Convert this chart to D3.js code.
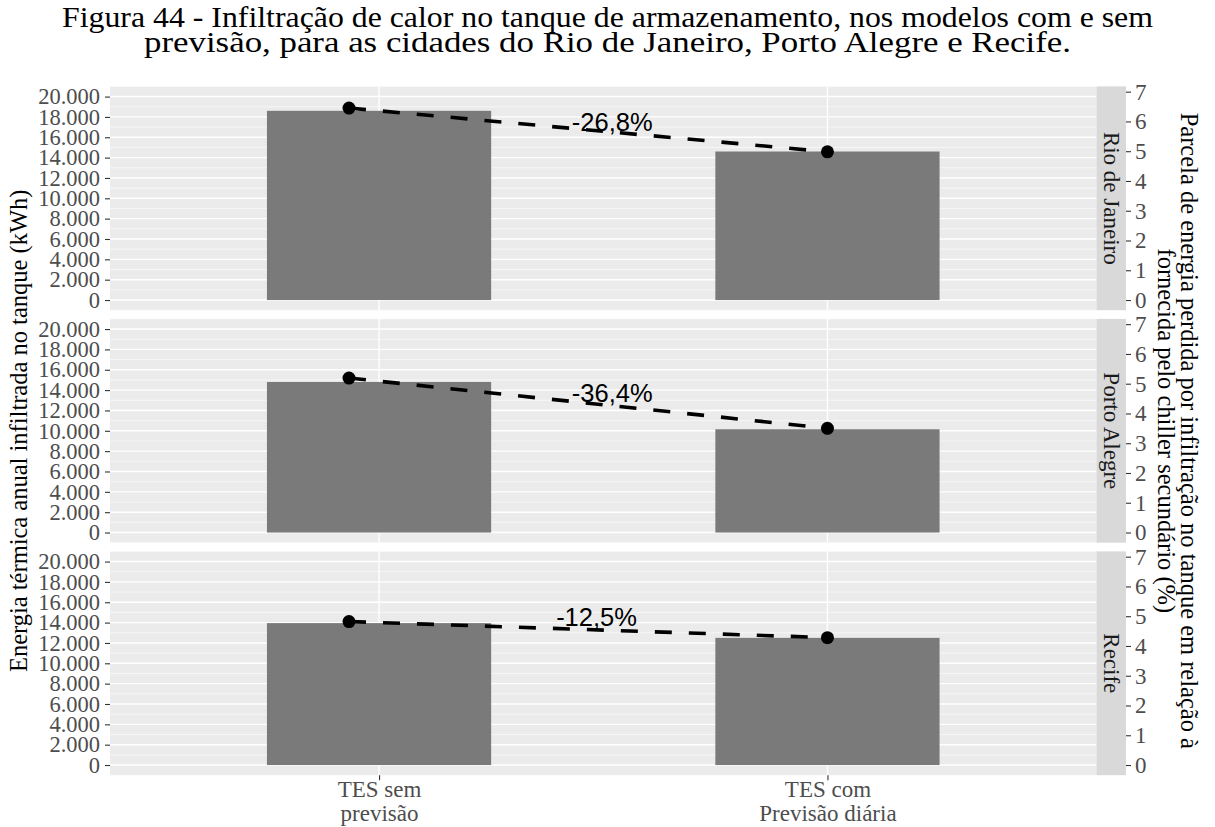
<!DOCTYPE html>
<html><head><meta charset="utf-8">
<script src="https://cdn.jsdelivr.net/npm/d3@7"></script>
<style>body{margin:0;background:#fff}</style>
</head><body><svg id="c" width="1215" height="827"></svg>
<script>
// ---------------- data ----------------
const categories = ["TES sem\nprevisão", "TES com\nPrevisão diária"];
const cities = ["Rio de Janeiro", "Porto Alegre", "Recife"];
const energyNoForecast = [18600, 14800, 13950];      // kWh
const energyDailyForecast = [14600, 10150, 12500];   // kWh
const lossNoForecast = [6.45, 5.19, 4.82];           // %
const lossDailyForecast = [4.98, 3.50, 4.28];        // %
const changeLabels = ["-26,8%", "-36,4%", "-12,5%"];
const changeLabelX = [1.52, 1.52, 1.485];            // category units
const changeLabelY = [5.69, 4.40, 4.67];             // % units
const pointNudge = [-0.067, 0];                      // category units
const yTicks = [0, 2000, 4000, 6000, 8000, 10000, 12000, 14000, 16000, 18000, 20000];
const yMinorTicks = [-1000, 1000, 3000, 5000, 7000, 9000, 11000, 13000, 15000, 17000, 19000, 21000];
const y2Ticks = [0, 1, 2, 3, 4, 5, 6, 7];
const titleLines = ["Figura 44 - Infiltração de calor no tanque de armazenamento, nos modelos com e sem",
                    "previsão, para as cidades do Rio de Janeiro, Porto Alegre e Recife."];
const yTitle = "Energia térmica anual infiltrada no tanque (kWh)";
const y2TitleLines = ["Parcela de energia perdida por infiltração no tanque em relação à",
                      "fornecida pelo chiller secundário (%)"];
const yDomain = [-1000, 21000];
const kWhPerPercent = 2926;

// ---------------- layout ----------------
const svg = d3.select("#c");
const panelLeft = 110, panelRight = 1096.5;
const panelTop0 = 86.4, panelH = 223.8, panelStep = 232.5;
const stripW = 29.5;
const serif = "'Liberation Serif','Times New Roman',serif";
const sans = "'Liberation Sans',Arial,sans-serif";

const fmt = d3.formatLocale({decimal: ",", thousands: ".", grouping: [3], currency: ["", ""]}).format(",");

const x = d3.scalePoint().domain(categories).range([panelLeft, panelRight]).padding(0.6);
const step = x.step();
const xu = u => x(categories[0]) + (u - 1) * step;
const barW = step * 0.5;

svg.append("rect").attr("width", 1215).attr("height", 827).attr("fill", "#fff");

cities.forEach((city, i) => {
  const top = panelTop0 + i * panelStep;
  const bottom = top + panelH;
  const y = d3.scaleLinear().domain(yDomain).range([bottom, top]);
  const y2 = d3.scaleLinear().domain(yDomain.map(v => v / kWhPerPercent)).range([bottom, top]);
  const g = svg.append("g");

  g.append("rect").attr("x", panelLeft).attr("y", top)
    .attr("width", panelRight - panelLeft).attr("height", panelH).attr("fill", "#ebebeb");

  g.selectAll(".minor").data(yMinorTicks).join("line")
    .attr("x1", panelLeft).attr("x2", panelRight)
    .attr("y1", d => y(d)).attr("y2", d => y(d))
    .attr("stroke", "#fafafa").attr("stroke-width", 0.7);
  g.selectAll(".major").data(yTicks).join("line")
    .attr("x1", panelLeft).attr("x2", panelRight)
    .attr("y1", d => y(d)).attr("y2", d => y(d))
    .attr("stroke", "#fff").attr("stroke-width", 1.4);
  g.selectAll(".vmajor").data(categories).join("line")
    .attr("x1", d => x(d)).attr("x2", d => x(d))
    .attr("y1", top).attr("y2", bottom)
    .attr("stroke", "#fff").attr("stroke-width", 1.4);

  const energies = [energyNoForecast[i], energyDailyForecast[i]];
  g.selectAll(".bar").data(categories).join("rect")
    .attr("x", d => x(d) - barW / 2)
    .attr("width", barW)
    .attr("y", (d, j) => y(energies[j]))
    .attr("height", (d, j) => y(0) - y(energies[j]))
    .attr("fill", "#7a7a7a");

  const losses = [lossNoForecast[i], lossDailyForecast[i]];
  const pts = categories.map((c, j) => [xu(j + 1 + pointNudge[j]), y2(losses[j])]);
  g.append("path").attr("d", d3.line()(pts))
    .attr("fill", "none").attr("stroke", "#000").attr("stroke-width", 3.6)
    .attr("stroke-dasharray", "17,17");
  g.selectAll(".pt").data(pts).join("circle")
    .attr("cx", d => d[0]).attr("cy", d => d[1]).attr("r", 6.5).attr("fill", "#000");

  g.append("text").attr("x", xu(changeLabelX[i])).attr("y", y2(changeLabelY[i]))
    .attr("text-anchor", "middle").attr("font-family", sans).attr("font-size", 25.5)
    .attr("fill", "#000").text(changeLabels[i]);

  // left axis
  const ax = svg.append("g").attr("transform", `translate(${panelLeft},0)`)
    .call(d3.axisLeft(y).tickValues(yTicks).tickFormat(fmt).tickSize(5).tickPadding(5));
  ax.select(".domain").remove();
  ax.selectAll("line").attr("stroke", "#333").attr("stroke-width", 1.1);
  ax.selectAll("text").attr("font-family", serif).attr("font-size", 22.5).attr("fill", "#4d4d4d");

  // strip
  svg.append("rect").attr("x", panelRight).attr("y", top).attr("width", stripW).attr("height", panelH)
    .attr("fill", "#d9d9d9");
  svg.append("text").attr("transform", `translate(${panelRight + stripW / 2},${top + panelH / 2}) rotate(90)`)
    .attr("text-anchor", "middle").attr("dominant-baseline", "central")
    .attr("font-family", serif).attr("font-size", 23).attr("fill", "#1a1a1a").text(city);

  // right axis
  const ax2 = svg.append("g").attr("transform", `translate(${panelRight + stripW},0)`)
    .call(d3.axisRight(y2).tickValues(y2Ticks).tickFormat(d3.format("d")).tickSize(5).tickPadding(4));
  ax2.select(".domain").remove();
  ax2.selectAll("line").attr("stroke", "#333").attr("stroke-width", 1.1);
  ax2.selectAll("text").attr("font-family", serif).attr("font-size", 23).attr("fill", "#4d4d4d");

  if (i === cities.length - 1) {
    const axb = svg.append("g").attr("transform", `translate(0,${bottom})`)
      .call(d3.axisBottom(x).tickSize(5).tickPadding(3));
    axb.select(".domain").remove();
    axb.selectAll("line").attr("stroke", "#333").attr("stroke-width", 1.1);
    axb.selectAll("text").each(function(d) {
      const t = d3.select(this).text("").attr("y", 0).attr("dy", null)
        .attr("font-family", serif).attr("font-size", 23).attr("fill", "#4d4d4d");
      d.split("\n").forEach((line, k) => {
        t.append("tspan").attr("x", 0).attr("y", 22 + k * 24).text(line);
      });
    });
  }
});

// titles
const titleWidths = [1091, 927];
titleLines.forEach((line, k) => {
  svg.append("text").attr("x", 607.5).attr("y", 27 + k * 25)
    .attr("text-anchor", "middle").attr("font-family", serif).attr("font-size", 29.5)
    .attr("textLength", titleWidths[k]).attr("lengthAdjust", "spacingAndGlyphs")
    .attr("fill", "#000").text(line);
});

const panelMid = panelTop0 + (2 * panelStep + panelH) / 2;
svg.append("text").attr("transform", `translate(27,${panelMid}) rotate(-90)`)
  .attr("text-anchor", "middle").attr("font-family", serif).attr("font-size", 24.5)
  .attr("fill", "#000").text(yTitle);

y2TitleLines.forEach((line, k) => {
  svg.append("text").attr("transform", `translate(${1181 - k * 23},${panelMid}) rotate(90)`)
    .attr("text-anchor", "middle").attr("font-family", serif).attr("font-size", 24.5)
    .attr("fill", "#000").text(line);
});
</script></body></html>
